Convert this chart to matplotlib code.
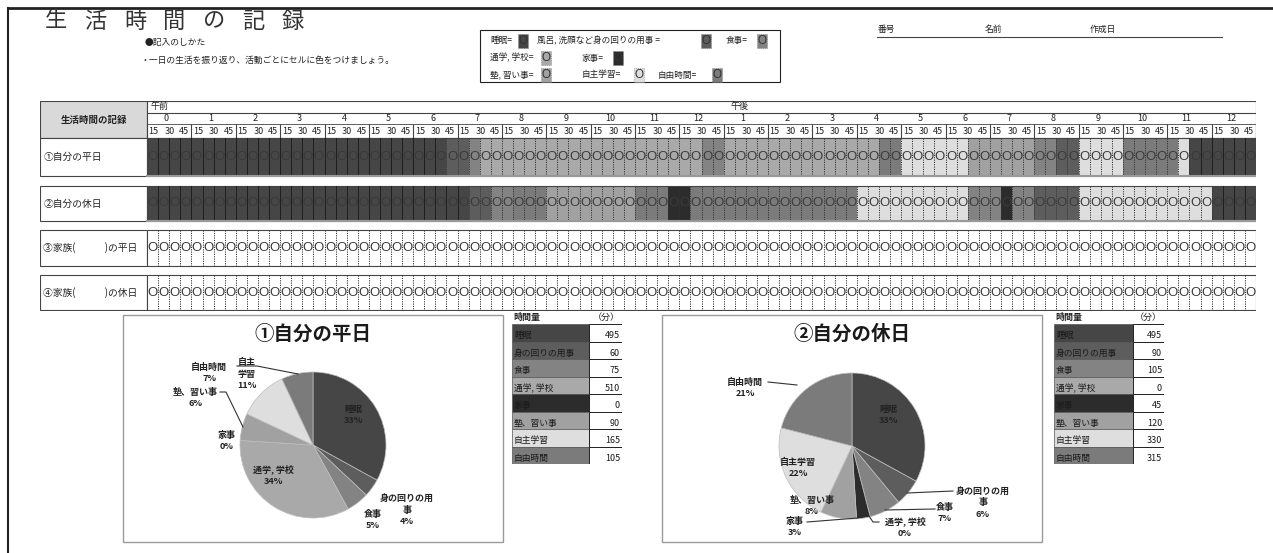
import matplotlib
matplotlib.use('Agg')
import matplotlib.pyplot as plt
from matplotlib.patches import Rectangle
import numpy as np

plt.rcParams['font.family'] = ['Noto Sans CJK JP', 'DejaVu Sans']

W, H = 1273, 553

# ---- data ----
categories = ['睡眠', '身の回りの用事', '食事', '通学, 学校', '家事', '塾、習い事', '自主学習', '自由時間']
weekday_minutes = [495, 60, 75, 510, 0, 90, 165, 105]
holiday_minutes = [495, 90, 105, 0, 45, 120, 330, 315]
gray_levels = ['#464646', '#5d5d5d', '#838383', '#a9a9a9', '#2c2c2c', '#a1a1a1', '#dedede', '#7b7b7b']

# timeline rows: (category index, number of 15-minute cells)
weekday_runs = [(0, 27), (1, 2), (2, 1), (3, 20), (2, 2), (3, 14), (7, 2), (6, 6),
                (5, 6), (2, 2), (1, 2), (6, 4), (7, 5), (6, 1), (0, 6)]
holiday_runs = [(0, 29), (1, 2), (2, 2), (7, 3), (5, 8), (7, 3), (4, 2), (7, 15),
                (6, 10), (2, 3), (4, 1), (2, 2), (1, 4), (6, 12), (0, 4)]

hour_labels = ['0', '1', '2', '3', '4', '5', '6', '7', '8', '9', '10', '11', '12',
               '1', '2', '3', '4', '5', '6', '7', '8', '9', '10', '11', '12']
quarter_labels = ['15', '30', '45']
row_labels = ['①自分の平日', '②自分の休日', '③家族(　　　)の平日', '④家族(　　　)の休日']

pie1_names = ['睡眠', '身の回りの用\n事', '食事', '通学, 学校', '家事', '塾、習い事', '自主\n学習', '自由時間']
pie2_names = ['睡眠', '身の回りの用\n事', '食事', '通学, 学校', '家事', '塾、習い事', '自主学習', '自由時間']

fig = plt.figure(figsize=(W / 100, H / 100), dpi=100)
bg = fig.add_axes([0, 0, 1, 1])
bg.set_xlim(0, W)
bg.set_ylim(H, 0)
bg.axis('off')


def px_axes(x0, y0, x1, y1):
    return fig.add_axes([x0 / W, 1 - y1 / H, (x1 - x0) / W, (y1 - y0) / H])


txt = '#222222'
circ_font = 'Liberation Sans'

# sheet frame
bg.plot([8, W], [8, 8], color='#222', lw=2)
bg.plot([8, 8], [8, H], color='#222', lw=1.5)

# title
for i, ch in enumerate('生活時間の記録'):
    bg.text(56 + i * 39.5, 21, ch, fontsize=16, ha='center', va='center', color='#333')

bg.text(145, 43, '●記入のしかた', fontsize=6.3, va='center', color=txt)
bg.text(140, 60, '・一日の生活を振り返り、活動ごとにセルに色をつけましょう。', fontsize=6.3, va='center', color=txt)

# legend box
bg.add_patch(Rectangle((480, 30), 300, 52, fill=False, ec='#222', lw=0.8))
legend_items = [('睡眠=', 490, 41, 518, 0), ('風呂, 洗顔など身の回りの用事 =', 537, 41, 701, 1),
                ('食事=', 726, 41, 757, 2), ('通学, 学校=', 490, 58, 541, 3),
                ('家事=', 582, 58, 613, 4), ('塾, 習い事=', 490, 75, 541, 5),
                ('自主学習=', 582, 75, 634, 6), ('自由時間=', 658, 75, 712, 7)]
for label, tx, ty, sx, ci in legend_items:
    bg.text(tx, ty, label, fontsize=6.2, va='center', color=txt)
    bg.add_patch(Rectangle((sx, ty - 7), 10, 14, fc=gray_levels[ci], ec='#777', lw=0.5, ls=':'))
    bg.text(sx + 5, ty, 'O', family=circ_font, fontsize=8.5, ha='center', va='center', color='#333')

# number / name / date
for label, x in [('番号', 878), ('名前', 985), ('作成日', 1090)]:
    bg.text(x, 29, label, fontsize=6.3, va='center', color=txt)
bg.plot([877, 1222], [37, 37], color='#444', lw=0.8)

# ---- timeline grid ----
slot_w = (1255 - 147) / 100
left_w = (147 - 40) / slot_w
tl = px_axes(40, 101, 1256, 311)
tl.set_xlim(-left_w, 100)
tl.set_ylim(311, 101)
tl.axis('off')

line_c = '#444444'
tl.add_patch(Rectangle((-left_w, 101), left_w, 37, fc='#d9d9d9', ec=line_c, lw=0.8))
tl.text(-left_w / 2, 119.5, '生活時間の記録', fontsize=6.8, ha='center', va='center', color=txt, weight='bold')
tl.add_patch(Rectangle((0, 101), 100, 37, fc='white', ec=line_c, lw=0.8))
tl.plot([0, 100], [113, 113], color=line_c, lw=0.8)
tl.plot([0, 100], [124, 124], color=line_c, lw=0.6)
tl.text(0.3, 107, '午前', fontsize=6.5, va='center', color=txt)
tl.text(53.4, 107, '午後', fontsize=6.5, ha='center', va='center', color=txt)
for h, lab in enumerate(hour_labels):
    tl.text(h * 4 + 1.75, 118.5, lab, fontsize=6.5, ha='center', va='center', color=txt)
    for q, ql in zip([0.6, 2.05, 3.35], quarter_labels):
        tl.text(h * 4 + q, 131, ql, fontsize=6.5, ha='center', va='center', color=txt)
tl.vlines(np.arange(0, 101, 4), 124, 138, color=line_c, lw=0.8)


def expand(runs):
    cells = []
    for ci, n in runs:
        cells += [ci] * n
    return cells


row_spans = [(138, 176), (186, 221), (230, 266), (275, 310)]
row_cells = [expand(weekday_runs), expand(holiday_runs), None, None]
slots = np.arange(100)

for (y0, y1), label, cells in zip(row_spans, row_labels, row_cells):
    ym = (y0 + y1) / 2
    tl.add_patch(Rectangle((-left_w, y0), left_w, y1 - y0, fc='white', ec=line_c, lw=0.8))
    tl.text(-left_w + 0.3, ym, label, fontsize=7, va='center', color=txt)
    if cells is None:
        colors = ['white'] * 100
        sleep = [False] * 100
    else:
        colors = [gray_levels[c] for c in cells]
        sleep = [c == 0 for c in cells]
    tl.bar(slots, y1 - y0, bottom=y0, width=1, align='edge', color=colors, lw=0)
    for b in range(1, 100):
        if sleep[b - 1] and sleep[b]:
            tl.plot([b, b], [y0, y1], color='#1e1e1e', lw=0.7)
        else:
            tl.plot([b, b], [y0, y1], color='#333', lw=0.7, ls=(0, (1.2, 1.2)))
    for s in slots:
        tl.text(s + 0.5, ym, 'O', family=circ_font, fontsize=9.5,
                ha='center', va='center', color='#3a3a3a')
    tl.add_patch(Rectangle((0, y0), 100, y1 - y0, fill=False, ec=line_c, lw=0.8))
    if cells is not None:
        tl.plot([0, 100], [y1, y1], color='#999', lw=1.5)

# ---- pies with their time tables ----
def draw_pie(box, center, r, title, minutes, names, label_pos, leaders, table_x):
    x0, y0, x1, y1 = box
    cx, cy = center
    bg.add_patch(Rectangle((x0, y0), x1 - x0, y1 - y0, fill=False, ec='#9a9a9a', lw=1))
    bg.text(cx, y0 + 19, title, fontsize=14, ha='center', va='center', color='#1a1a1a', weight='bold')
    ax = px_axes(x0, y0, x1, y1)
    ax.pie(minutes, colors=gray_levels, startangle=90, counterclock=False, radius=1,
           wedgeprops=dict(lw=0.5, ec='#bdbdbd'))
    ax.set_xlim((x0 - cx) / r, (x1 - cx) / r)
    ax.set_ylim((cy - y1) / r, (cy - y0) / r)
    ax.set_aspect('auto')
    ax.axis('off')
    total = sum(minutes)
    for name, v, (px, py) in zip(names, minutes, label_pos):
        ax.text((px - cx) / r, (cy - py) / r, f'{name}\n{round(v / total * 100)}%',
                fontsize=6.5, ha='center', va='center', color=txt, weight='bold', linespacing=1.35)
    for pts in leaders:
        xs = [(p[0] - cx) / r for p in pts]
        ys = [(cy - p[1]) / r for p in pts]
        ax.plot(xs, ys, color='#333', lw=0.8)

    # time table
    tx0, tx1, tx2 = table_x
    tb = px_axes(tx0, 324, tx2, 464)
    tb.set_xlim(0, tx2 - tx0)
    tb.set_ylim(8, 0)
    tb.axis('off')
    rows = np.arange(len(categories))
    tb.barh(rows + 0.5, tx1 - tx0, height=1, left=0, color=gray_levels, ec='#555', lw=0.5)
    tb.barh(rows + 0.5, tx2 - tx1, height=1, left=tx1 - tx0, color='white', ec='#222', lw=0.7)
    for i, (c, v) in enumerate(zip(categories, minutes)):
        tb.text(2, i + 0.68, c, fontsize=6.3, va='center', color='#1a1a1a')
        tb.text(tx2 - tx0 - 2, i + 0.68, str(v), fontsize=6.5, ha='right', va='center', color='#1a1a1a')
    bg.text(tx0 + 1, 317, '時間量', fontsize=6.5, va='center', color=txt, weight='bold')
    bg.text(tx2 - 2, 317, '（分）', fontsize=6.5, ha='right', va='center', color=txt)


draw_pie((123, 315, 503, 542), (313, 445), 73, '①自分の平日', weekday_minutes, pie1_names,
         [(353, 415), (407, 510), (373, 520), (273, 475), (227, 441), (195, 398), (247, 374), (209, 373)],
         [[(220, 392), (226, 392), (243, 427)], [(237, 366), (257, 366), (298, 374)]],
         (512, 589, 622))

draw_pie((662, 315, 1042, 542), (852, 446), 73, '②自分の休日', holiday_minutes, pie2_names,
         [(888, 415), (983, 503), (945, 513), (905, 527), (795, 527), (812, 506), (798, 468), (745, 388)],
         [[(953, 491), (907, 493)], [(935, 509), (885, 510)], [(879, 522), (873, 522), (869, 516)],
          [(807, 522), (858, 518)], [(768, 382), (797, 385)]],
         (1054, 1133, 1164))

fig.savefig('out.png', dpi=100)
